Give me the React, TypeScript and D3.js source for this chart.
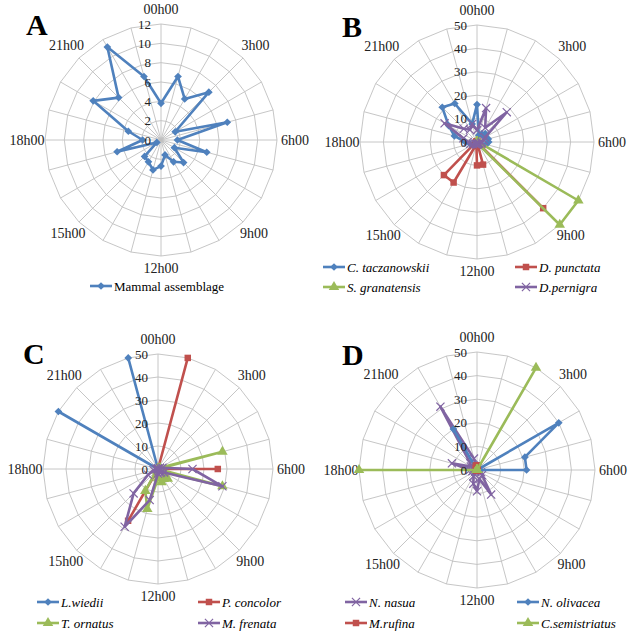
import { useEffect, useRef } from 'react';
import * as d3 from 'd3';

const HOURS = d3.range(24);
const HOUR_LABELS = ['00h00', '3h00', '6h00', '9h00', '12h00', '15h00', '18h00', '21h00'];
const TICKS_A = [0, 2, 4, 6, 8, 10, 12];
const TICKS_50 = [0, 10, 20, 30, 40, 50];

// A - all mammals, hours 0..23
const MAMMAL = [3.8, 6.8, 4.9, 7.0, 1.7, 7.1, 1.7, 4.9, 1.6, 3.3, 2.6, 1.6, 2.7, 3.2, 2.6, 2.4, 0.5, 4.7, 1.9, 3.5, 8.1, 6.2, 11.1, 6.8];

// B
const C_TACZANOWSKII = [16, 3, 4, 5, 4, 5, 5, 4, 3, 2, 1, 1, 1, 1, 1, 1, 1, 3, 5, 10, 14, 21, 19, 8];
const D_PUNCTATA = [0, 0, 0, 0, 0, 0, 0, 0, 0, 40, 0, 10, 10, 1, 20, 20, 1, 0, 0, 0, 0, 0, 0, 0];
const S_GRANATENSIS = [0, 0, 0, 0, 0, 0, 0, 1, 50, 50, 1, 0, 0, 0, 0, 0, 0, 0, 0, 0, 0, 0, 0, 0];
const D_PERNIGRA = [5, 15, 7, 18, 4, 3, 2, 2, 1, 1, 1, 1, 1, 1, 1, 1, 2, 3, 4, 6, 16, 8, 6, 8];

// C
const L_WIEDII = [0, 0, 0, 0, 0, 0, 0, 0, 0, 0, 0, 0, 0, 0, 0, 0, 0, 0, 0, 0, 50, 0, 0, 50];
const P_CONCOLOR = [0, 50, 0, 0, 0, 0, 26, 0, 0, 0, 0, 0, 0, 0, 26, 0, 0, 0, 0, 0, 0, 0, 0, 0];
const T_ORNATUS = [0, 0, 0, 0, 1, 29, 0, 29, 2, 6, 5, 6, 4, 18, 11, 1, 0, 0, 0, 0, 0, 0, 0, 0];
const M_FRENATA = [0, 0, 0, 0, 1, 2, 15, 29, 3, 2, 2, 1, 2, 14, 29, 15, 5, 2, 1, 0, 0, 0, 0, 0];

// D
const N_NASUA = [1, 1, 0, 0, 0, 0, 0, 1, 2, 3, 12, 4, 9, 6, 3, 1, 1, 2, 3, 11, 3, 4, 31, 5];
const N_OLIVACEA = [0, 0, 0, 0, 40, 21, 21, 0, 0, 0, 0, 0, 0, 0, 0, 0, 0, 0, 0, 0, 0, 0, 20, 0];
const M_RUFINA = [2, 1, 0, 0, 0, 0, 0, 0, 0, 0, 0, 0, 0, 0, 0, 0, 0, 0, 0, 0, 0, 0, 1, 2];
const C_SEMISTRIATUS = [0, 0, 50, 0, 0, 0, 0, 0, 0, 0, 0, 0, 0, 0, 0, 0, 0, 0, 50, 0, 0, 0, 0, 0];

const BLUE = '#4F81BD';
const RED = '#C0504D';
const GREEN = '#9BBB59';
const PURPLE = '#8064A2';
const GRID = '#BFBFBF';
const FONT = "'Liberation Serif', 'Times New Roman', serif";

type Marker = 'diamond' | 'square' | 'triangle' | 'x';
interface Series { name: string; values: number[]; color: string; marker: Marker; italic: boolean }
interface Panel {
  letter: string; cx: number; cy: number; radius: number; ticks: number[];
  series: Series[]; legend: { x: number; y: number }[];
}

const PANELS: Panel[] = [
  {
    letter: 'A', cx: 161, cy: 140, radius: 116, ticks: TICKS_A,
    series: [{ name: 'Mammal assemblage', values: MAMMAL, color: BLUE, marker: 'diamond', italic: false }],
    legend: [{ x: 90, y: 286 }],
  },
  {
    letter: 'B', cx: 477, cy: 142, radius: 117, ticks: TICKS_50,
    series: [
      { name: 'C. taczanowskii', values: C_TACZANOWSKII, color: BLUE, marker: 'diamond', italic: true },
      { name: 'D. punctata', values: D_PUNCTATA, color: RED, marker: 'square', italic: true },
      { name: 'S. granatensis', values: S_GRANATENSIS, color: GREEN, marker: 'triangle', italic: true },
      { name: 'D.pernigra', values: D_PERNIGRA, color: PURPLE, marker: 'x', italic: true },
    ],
    legend: [{ x: 323, y: 267 }, { x: 515, y: 267 }, { x: 323, y: 287 }, { x: 515, y: 287 }],
  },
  {
    letter: 'C', cx: 158, cy: 469, radius: 115, ticks: TICKS_50,
    series: [
      { name: 'L.wiedii', values: L_WIEDII, color: BLUE, marker: 'diamond', italic: true },
      { name: 'P. concolor', values: P_CONCOLOR, color: RED, marker: 'square', italic: true },
      { name: 'T. ornatus', values: T_ORNATUS, color: GREEN, marker: 'triangle', italic: true },
      { name: 'M. frenata', values: M_FRENATA, color: PURPLE, marker: 'x', italic: true },
    ],
    legend: [{ x: 37, y: 602 }, { x: 198, y: 602 }, { x: 37, y: 623 }, { x: 198, y: 623 }],
  },
  {
    letter: 'D', cx: 477, cy: 470, radius: 118, ticks: TICKS_50,
    series: [
      { name: 'N. nasua', values: N_NASUA, color: PURPLE, marker: 'x', italic: true },
      { name: 'N. olivacea', values: N_OLIVACEA, color: BLUE, marker: 'diamond', italic: true },
      { name: 'M.rufina', values: M_RUFINA, color: RED, marker: 'square', italic: true },
      { name: 'C.semistriatus', values: C_SEMISTRIATUS, color: GREEN, marker: 'triangle', italic: true },
    ],
    legend: [{ x: 345, y: 602 }, { x: 517, y: 602 }, { x: 345, y: 623 }, { x: 517, y: 623 }],
  },
];

function drawMarker(g: d3.Selection<SVGGElement, unknown, null, undefined>, m: Marker, color: string, x: number, y: number) {
  if (m === 'x') {
    g.append('path')
      .attr('d', d3.symbol(d3.symbolTimes, 45)() || '')
      .attr('transform', `translate(${x},${y})`)
      .attr('fill', 'none')
      .attr('stroke', color)
      .attr('stroke-width', 1.2);
    return;
  }
  const type = m === 'diamond' ? d3.symbolDiamond2 : m === 'square' ? d3.symbolSquare : d3.symbolTriangle;
  const size = m === 'diamond' ? 38 : m === 'square' ? 42 : 48;
  g.append('path')
    .attr('d', d3.symbol(type, size)() || '')
    .attr('transform', `translate(${x},${y})`)
    .attr('fill', color);
}

function drawPanel(svg: d3.Selection<SVGSVGElement, unknown, null, undefined>, p: Panel) {
  const max = d3.max(p.ticks) as number;
  const r = d3.scaleLinear().domain([0, max]).range([0, p.radius]);
  const angle = d3.scaleLinear().domain([0, 24]).range([0, 2 * Math.PI]);
  const g = svg.append('g').attr('transform', `translate(${p.cx},${p.cy})`);

  // polygon rings
  p.ticks.filter((t) => t > 0).forEach((t) => {
    const ring = d3.lineRadial<number>().angle((h) => angle(h)).radius(() => r(t)).curve(d3.curveLinearClosed);
    g.append('path').attr('d', ring(HOURS) || '').attr('fill', 'none').attr('stroke', GRID).attr('stroke-width', 0.9);
  });

  // spokes
  HOURS.forEach((h) => {
    const [x, y] = d3.pointRadial(angle(h), p.radius);
    g.append('line').attr('x1', 0).attr('y1', 0).attr('x2', x).attr('y2', y)
      .attr('stroke', GRID).attr('stroke-width', 0.9);
  });

  // hour labels: a bit higher at the top, further out at the sides where the text is wide
  HOUR_LABELS.forEach((lab, k) => {
    const a = angle(k * 3);
    const off = 13.5 + 1.5 * Math.cos(a) + 4.5 * Math.abs(Math.sin(a));
    const [x, y] = d3.pointRadial(a, p.radius + off);
    g.append('text').attr('x', x).attr('y', y)
      .attr('text-anchor', 'middle').attr('dominant-baseline', 'central')
      .attr('font-family', FONT).attr('font-size', 14).attr('fill', '#222')
      .text(lab);
  });

  // series
  p.series.forEach((s) => {
    const line = d3.lineRadial<number>().angle((_, i) => angle(i)).radius((v) => r(v)).curve(d3.curveLinearClosed);
    g.append('path').attr('d', line(s.values) || '')
      .attr('fill', 'none').attr('stroke', s.color).attr('stroke-width', 2.6).attr('stroke-linejoin', 'round');
    s.values.forEach((v, i) => {
      const [x, y] = d3.pointRadial(angle(i), r(v));
      drawMarker(g, s.marker, s.color, x, y);
    });
  });

  // value ticks
  p.ticks.forEach((t) => {
    g.append('text').attr('x', -10).attr('y', -r(t))
      .attr('text-anchor', 'end').attr('dominant-baseline', 'central')
      .attr('font-family', FONT).attr('font-size', 13).attr('fill', '#222')
      .text(t);
  });

  // letter
  svg.append('text').attr('x', p.cx - 135).attr('y', p.cy - 105)
    .attr('font-family', FONT).attr('font-size', 30).attr('font-weight', 'bold').attr('fill', '#000')
    .text(p.letter);

  // legend
  const lg = svg.append('g');
  p.series.forEach((s, i) => {
    const { x, y } = p.legend[i];
    lg.append('line').attr('x1', x).attr('x2', x + 22).attr('y1', y).attr('y2', y)
      .attr('stroke', s.color).attr('stroke-width', 2.6);
    drawMarker(lg, s.marker, s.color, x + 11, y);
    lg.append('text').attr('x', x + 24).attr('y', y)
      .attr('dominant-baseline', 'central')
      .attr('font-family', FONT).attr('font-size', 13).attr('fill', '#000')
      .attr('font-style', s.italic ? 'italic' : 'normal')
      .text(s.name);
  });
}

export default function App() {
  const svgRef = useRef<SVGSVGElement>(null);

  useEffect(() => {
    if (!svgRef.current) return;
    const svg = d3.select(svgRef.current);
    svg.selectAll('*').remove();
    svg.append('rect').attr('width', 643).attr('height', 638).attr('fill', '#fff');
    PANELS.forEach((p) => drawPanel(svg, p));
  }, []);

  return (
    <svg
      ref={svgRef}
      width={643}
      height={638}
      viewBox="0 0 643 638"
      style={{ position: 'absolute', left: 0, top: 0 }}
    />
  );
}
